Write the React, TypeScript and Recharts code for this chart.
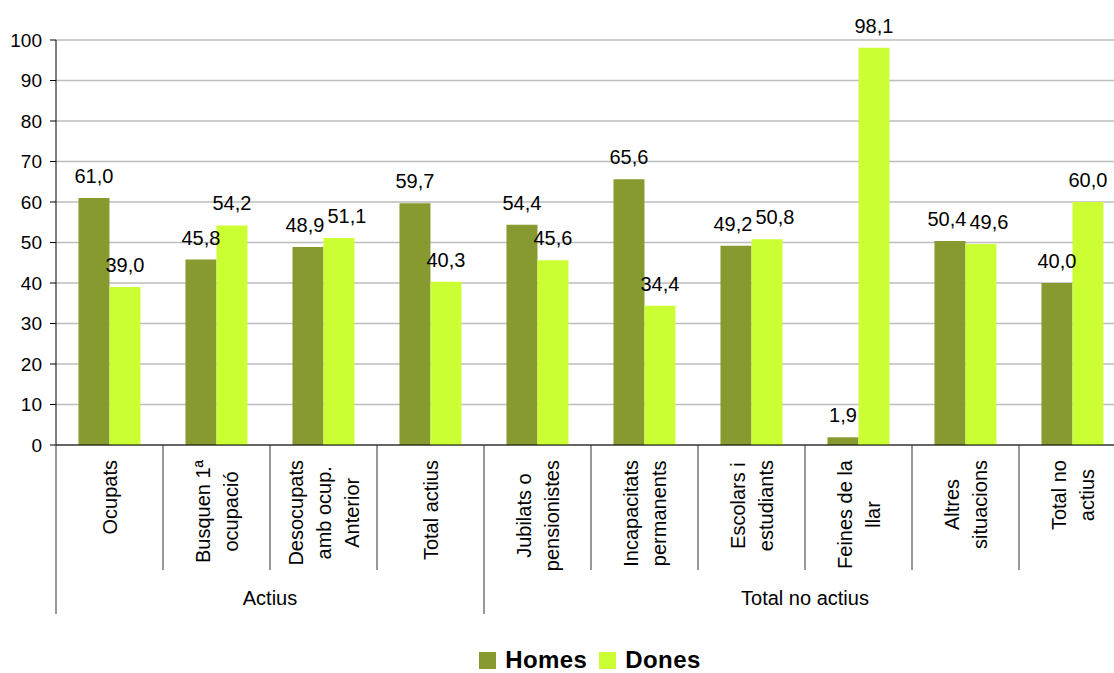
import React from 'react';
import { BarChart, Bar, XAxis, YAxis, CartesianGrid, Legend, LabelList } from 'recharts';

// categories (line breaks as in the original labels)
const categories: string[] = [
  'Ocupats',
  'Busquen 1ª\nocupació',
  'Desocupats\namb ocup.\nAnterior',
  'Total actius',
  'Jubilats o\npensionistes',
  'Incapacitats\npermanents',
  'Escolars i\nestudiants',
  'Feines de la\nllar',
  'Altres\nsituacions',
  'Total no\nactius',
];

const homes: number[] = [61.0, 45.8, 48.9, 59.7, 54.4, 65.6, 49.2, 1.9, 50.4, 40.0];
const dones: number[] = [39.0, 54.2, 51.1, 40.3, 45.6, 34.4, 50.8, 98.1, 49.6, 60.0];

const groupNames: string[] = ['Actius', 'Total no actius'];
const groupSizes: number[] = [4, 6];

const yTicks: number[] = [0, 10, 20, 30, 40, 50, 60, 70, 80, 90, 100];

const HOMES_COLOR = '#869A2F';
const DONES_COLOR = '#CCFF33';
const FONT = '"Liberation Sans", Arial, sans-serif';

// layout
const CHART_W = 1130;
const CHART_H = 673;
const PLOT_LEFT = 56;
const PLOT_RIGHT = 1126;
const AXIS_Y = 445;
const LABEL_TOP = 460;
const BAND = (PLOT_RIGHT - PLOT_LEFT) / categories.length;

const groupStarts: number[] = groupSizes.map((_, i) =>
  groupSizes.slice(0, i).reduce((a, b) => a + b, 0)
);

const data = categories.map((name, i) => ({ name, Homes: homes[i], Dones: dones[i] }));

let ctx: CanvasRenderingContext2D | null = null;
const textWidth = (s: string): number => {
  if (!ctx) ctx = document.createElement('canvas').getContext('2d');
  if (!ctx) return s.length * 10;
  ctx.font = '20px "Liberation Sans", Arial, sans-serif';
  return ctx.measureText(s).width;
};

const fmt = (v: any) => Number(v).toFixed(1).replace('.', ',');

// value label above a bar; when both values of a category are close the
// two labels are pushed apart so they don't run into each other
const makeValueLabel = (isHomes: boolean) => (props: any) => {
  const { x, y, width, value, index } = props;
  const other = isHomes ? dones[index] : homes[index];
  const close = Math.abs(Number(value) - other) < 5;
  const dx = close ? (isHomes ? -3 : 8) : 0;
  return (
    <text
      x={Number(x) + Number(width) / 2 + dx}
      y={Number(y) - 15}
      textAnchor="middle"
      fontSize={20}
      fontFamily={FONT}
      fill="#000"
    >
      {fmt(value)}
    </text>
  );
};

const CategoryTick = (props: any) => {
  const { x, index, payload } = props;
  const lines = String(payload.value).split('\n');
  const maxW = Math.max(...lines.map(textWidth));
  const centerY = LABEL_TOP + maxW / 2;
  const left = x - BAND / 2;
  const g = groupStarts.indexOf(index);
  return (
    <g>
      <line x1={left} x2={left} y1={AXIS_Y} y2={g >= 0 ? 614 : 570} stroke="#333" strokeWidth={1} />
      {index === categories.length - 1 && (
        <line x1={left + BAND} x2={left + BAND} y1={AXIS_Y} y2={614} stroke="#333" strokeWidth={1} />
      )}
      {lines.map((l, i) => (
        <text
          key={i}
          transform={`translate(${x + (i - (lines.length - 1) / 2) * 28 + 7}, ${centerY}) rotate(-90)`}
          textAnchor="middle"
          fontSize={20}
          fontFamily={FONT}
          fill="#000"
        >
          {l}
        </text>
      ))}
      {g >= 0 && (
        <text
          x={left + (groupSizes[g] * BAND) / 2}
          y={605}
          textAnchor="middle"
          fontSize={20}
          fontFamily={FONT}
          fill="#000"
        >
          {groupNames[g]}
        </text>
      )}
    </g>
  );
};

const LegendContent = () => (
  <div
    style={{
      height: 53,
      boxSizing: 'border-box',
      paddingTop: 27,
      paddingLeft: 50,
      display: 'flex',
      justifyContent: 'center',
      alignItems: 'center',
      fontFamily: FONT,
      fontWeight: 'bold',
      fontSize: 24,
      letterSpacing: 0.4,
      color: '#000',
    }}
  >
    {[
      { name: 'Homes', color: HOMES_COLOR },
      { name: 'Dones', color: DONES_COLOR },
    ].map((it, i) => (
      <span key={it.name} style={{ display: 'flex', alignItems: 'center', marginLeft: i ? 12 : 0, lineHeight: '26px' }}>
        <span style={{ width: 17, height: 17, background: it.color, display: 'inline-block', marginRight: 9 }} />
        {it.name}
      </span>
    ))}
  </div>
);

export default function App() {
  return (
    <div style={{ position: 'absolute', left: 0, top: 0, width: 1114, height: 673, overflow: 'hidden', background: '#fff' }}>
      <BarChart
        width={CHART_W}
        height={CHART_H}
        data={data}
        margin={{ top: 40, right: CHART_W - PLOT_RIGHT, bottom: 0, left: 0 }}
        barCategoryGap="21%"
        barGap={0}
      >
        <CartesianGrid vertical={false} stroke="#bdbdbd" strokeWidth={1.5} />
        <YAxis
          width={PLOT_LEFT}
          domain={[0, 100]}
          ticks={yTicks}
          interval={0}
          tickSize={6}
          tickMargin={8}
          axisLine={{ stroke: '#000' }}
          tickLine={{ stroke: '#000' }}
          tick={{ fill: '#000', fontSize: 19, fontFamily: FONT }}
        />
        <XAxis
          dataKey="name"
          height={175}
          interval={0}
          tickLine={false}
          axisLine={{ stroke: '#000' }}
          tick={<CategoryTick />}
        />
        <Legend verticalAlign="bottom" wrapperStyle={{ left: 0, width: CHART_W }} content={<LegendContent />} />
        <Bar dataKey="Homes" fill={HOMES_COLOR} isAnimationActive={false}>
          <LabelList dataKey="Homes" content={makeValueLabel(true)} />
        </Bar>
        <Bar dataKey="Dones" fill={DONES_COLOR} isAnimationActive={false}>
          <LabelList dataKey="Dones" content={makeValueLabel(false)} />
        </Bar>
      </BarChart>
    </div>
  );
}
